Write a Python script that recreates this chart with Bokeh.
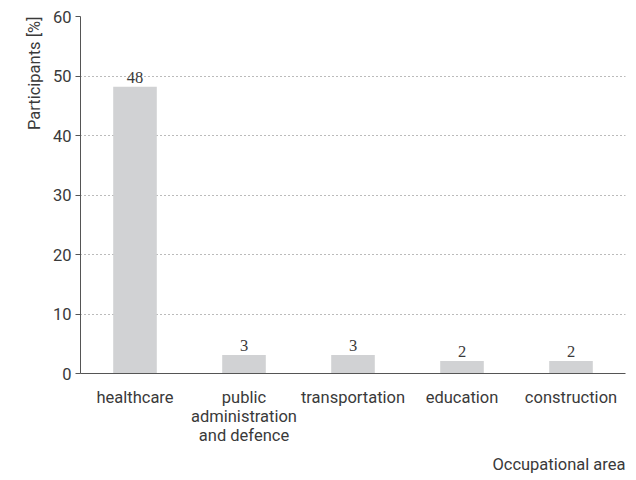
from bokeh.plotting import figure
from bokeh.models import ColumnDataSource, FactorRange, Range1d, Title, LabelSet, FixedTicker
from bokeh.embed import file_html
from bokeh.resources import INLINE

categories = ["healthcare", "public\nadministration\nand defence", "transportation", "education", "construction"]
values = [48.2, 3.1, 3.1, 2.1, 2.1]
labels = ["48", "3", "3", "2", "2"]
y_ticks = [0, 10, 20, 30, 40, 50, 60]
y_title = "Participants [%]"
x_title = "Occupational area"

FONT = "Roboto"
TXT = "#3a3a3a"
FS = "16.5px"

src = ColumnDataSource(dict(cat=categories, val=values, lab=labels))

p = figure(x_range=FactorRange(*categories, range_padding=0), y_range=Range1d(0, 60),
           width=630, height=478, output_backend="svg", toolbar_location=None,
           min_border_left=80, min_border_right=5, min_border_top=16, min_border_bottom=105)
p.outline_line_color = None
p.vbar(x="cat", top="val", width=0.4, source=src, fill_color="#d1d2d4", line_color=None)

p.add_layout(LabelSet(x="cat", y="val", text="lab", source=src, text_align="center",
                      text_baseline="bottom", y_offset=4, text_font=FONT,
                      text_font_size=FS, text_color=TXT))

p.xgrid.grid_line_color = None
p.ygrid.grid_line_color = "#777777"
p.ygrid.grid_line_dash = "1 3"
p.ygrid.ticker = FixedTicker(ticks=y_ticks)

p.yaxis.ticker = FixedTicker(ticks=y_ticks)
p.yaxis.minor_tick_line_color = None
p.yaxis.major_tick_out = 5
p.yaxis.major_tick_in = 0
p.yaxis.major_tick_line_color = "#555555"
p.xaxis.major_tick_line_color = None
p.xaxis.minor_tick_line_color = None
for ax in (p.xaxis, p.yaxis):
    ax.axis_line_color = "#555555"
    ax.major_label_text_font = FONT
    ax.major_label_text_font_size = FS
    ax.major_label_text_color = TXT
p.xaxis.major_label_standoff = 8
p.xaxis.major_label_text_line_height = 1.0
p.yaxis.major_label_standoff = 4

p.add_layout(Title(text=y_title, align="right", text_font=FONT, standoff=12,
                   text_font_size=FS, text_font_style="normal", text_color=TXT), "left")
p.add_layout(Title(text=x_title, align="right", text_font=FONT, standoff=10, offset=0,
                   text_font_size=FS, text_font_style="normal", text_color=TXT), "below")

open("out.html", "w").write(file_html(p, INLINE))
